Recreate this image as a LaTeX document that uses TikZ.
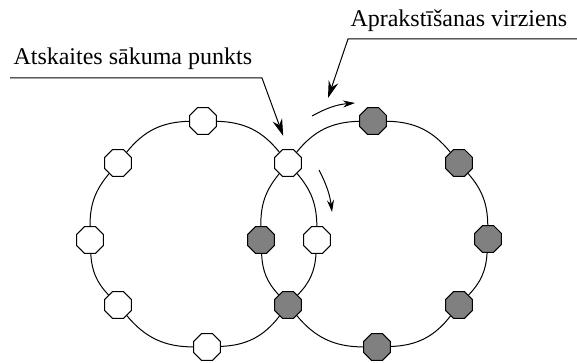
\documentclass[tikz,border=0pt]{standalone}
\usepackage{fontspec}
\setmainfont{Liberation Serif}
\usepackage{tikz}
\usetikzlibrary{arrows.meta,shapes.geometric}
\definecolor{nodegray}{RGB}{128,128,128}

\begin{document}
\begin{tikzpicture}[x=1pt,y=1pt,line width=1pt,
    main node/.style={regular polygon,regular polygon sides=8,draw,fill=white,
      minimum size=29pt,inner sep=0pt},
    dark node/.style={main node,fill=nodegray},
    label text/.style={anchor=base west,inner sep=0pt,font=\fontsize{24}{28}\selectfont},
    callout/.style={-{Stealth[length=17pt,width=10pt]}},
    turn/.style={-{Stealth[length=12pt,width=7pt]}}]
    \useasboundingbox (0,0) rectangle (577,363);
    % nodes shared by both rings
    \node[main node] (ctop) at (288,200) {};
    \node[dark node] (cbot) at (288,58) {};
    % left ring
    \node[main node] (inR) at (317,123) {};
    \node[main node] (ltop) at (203,242) {};
    \node[main node] (lul) at (118,200) {};
    \node[main node] (ll) at (90,123) {};
    \node[main node] (lll) at (118,58) {};
    \node[main node] (lbot) at (207,16) {};
    % right ring
    \node[dark node] (inL) at (261,123) {};
    \node[dark node] (rtop) at (373,242) {};
    \node[dark node] (rur) at (459,200) {};
    \node[dark node] (rr) at (488,124) {};
    \node[dark node] (rlr) at (459,58) {};
    \node[dark node] (rbot) at (377,16) {};
    \path
    (inR) edge [bend right=20] (ctop)
    (ctop) edge [bend right=25] (ltop)
    (ltop) edge [bend right=25] (lul)
    (lul) edge [bend right=20] (ll)
    (ll) edge [bend right=20] (lll)
    (lll) edge [bend right=25] (lbot)
    (lbot) edge [bend right=25] (cbot)
    (cbot) edge [bend right=20] (inR)
    (rr) edge [bend right=20] (rur)
    (rur) edge [bend right=25] (rtop)
    (rtop) edge [bend right=25] (ctop)
    (ctop) edge [bend right=20] (inL)
    (inL) edge [bend right=20] (cbot)
    (cbot) edge [bend right=25] (rbot)
    (rbot) edge [bend right=25] (rlr)
    (rlr) edge [bend right=20] (rr)
    ;
    % labels and pointers
    \node[label text] (startlbl) at (13,298) {Atskaites sākuma punkts};
    \node[label text] (dirlbl) at (350,336) {Aprakstīšanas virziens};
    \coordinate (startline) at (10,285);
    \coordinate (startbend) at (262,285);
    \coordinate (dirline) at (577,324);
    \coordinate (dirbend) at (348,324);
    \coordinate (dirtip) at (328,265);
    \coordinate (flowa) at (312,247);
    \coordinate (flowb) at (355,260);
    \coordinate (flowc) at (319,193);
    \coordinate (flowd) at (332,151);
    \draw[callout,shorten >=14pt] (startline) -- (startbend) -- (ctop.north);
    \draw[callout] (dirline) -- (dirbend) -- (dirtip);
    \draw[turn] (flowa) to [bend left=12] (flowb);
    \draw[turn] (flowc) to [bend left=10] (flowd);
\end{tikzpicture}
\end{document}
